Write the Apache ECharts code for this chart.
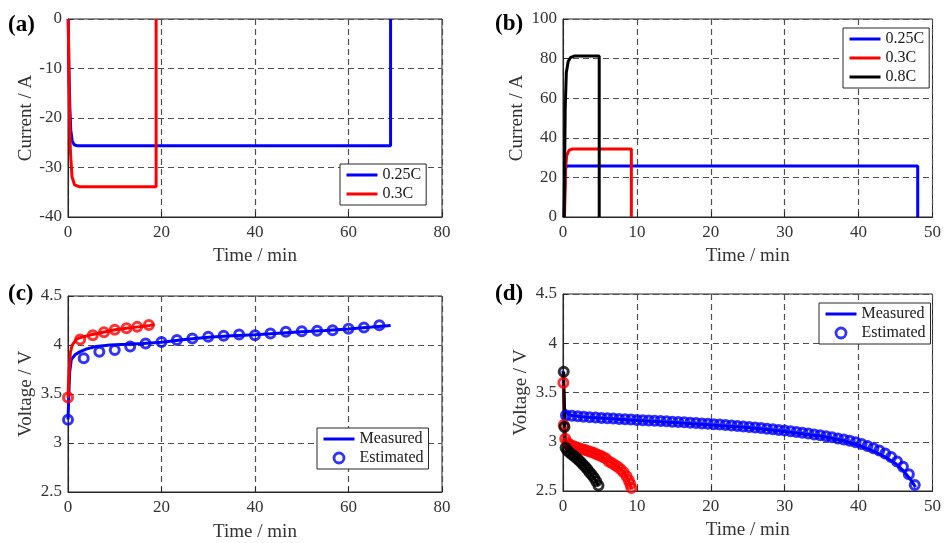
<!DOCTYPE html>
<html>
<head>
<meta charset="utf-8">
<script src="https://cdn.jsdelivr.net/npm/echarts@6/dist/echarts.min.js"></script>
<style>
  html, body { margin: 0; padding: 0; background: #fff; }
  #chart { width: 944px; height: 543px; }
</style>
</head>
<body>
<div id="chart"></div>
<script>
// ---------- (a) charging current ----------
const tA025 = [0.05, 0.2, 0.4, 0.6, 0.9, 1.3, 2.0, 69.0, 69.0];
const iA025 = [0, -10, -18, -22.5, -24.6, -25.4, -25.6, -25.6, 0];
const tA03 = [0.05, 0.2, 0.35, 0.5, 0.86, 1.4, 2.5, 18.85, 18.85];
const iA03 = [0, -12, -20, -26.5, -31.9, -33.5, -33.9, -33.9, 0];

// ---------- (b) discharging current ----------
const tB025 = [0.15, 0.3, 0.5, 48.0, 48.0];
const iB025 = [0, 24, 25.8, 25.8, 0];
const tB03 = [0.2, 0.35, 0.5, 0.8, 1.2, 9.25, 9.25];
const iB03 = [0, 25, 31, 33.6, 34.3, 34.4, 0];
const tB08 = [0.15, 0.3, 0.45, 0.7, 1.0, 1.5, 4.9, 4.9];
const iB08 = [0, 55, 73, 78.5, 80.5, 81.3, 81.3, 0];

// ---------- (c) charging voltage ----------
const tC025 = [0, 0.15, 0.35, 0.7, 1.5, 2.5, 4, 6, 9, 12.5, 16, 20, 25, 30, 35, 40, 45, 50, 55, 60, 65, 69];
const vC025 = [3.24, 3.45, 3.72, 3.85, 3.9, 3.93, 3.96, 3.985, 4.0, 4.007, 4.015, 4.028, 4.055, 4.078, 4.095, 4.105, 4.12, 4.135, 4.148, 4.163, 4.183, 4.2];
const tC025est = [0, 3.36, 6.7, 10.0, 13.3, 16.6, 20.0, 23.3, 26.6, 30.0, 33.3, 36.6, 40.0, 43.3, 46.6, 50.0, 53.3, 56.6, 60.0, 63.3, 66.6];
const vC025est = [3.238, 3.864, 3.93, 3.95, 3.985, 4.015, 4.03, 4.05, 4.067, 4.084, 4.094, 4.107, 4.10, 4.118, 4.135, 4.141, 4.145, 4.151, 4.165, 4.178, 4.202];
const tC03 = [0, 0.2, 0.5, 0.9, 1.8, 3, 5, 7.5, 10, 12.5, 15, 17.5, 18.5];
const vC03 = [3.46, 3.7, 3.92, 4.0, 4.06, 4.08, 4.105, 4.13, 4.155, 4.17, 4.185, 4.2, 4.21];
const tC03est = [0, 2.6, 5.3, 7.7, 10.0, 12.5, 14.8, 17.3];
const vC03est = [3.464, 4.055, 4.1, 4.13, 4.155, 4.17, 4.185, 4.205];

// ---------- (d) discharging voltage ----------
const tD025 = [0, 0.08, 0.2, 0.4, 1, 3, 6, 10, 15, 20, 25, 30, 35, 38, 40, 42, 43.5, 45, 46, 47, 47.7];
const vD025 = [3.72, 3.5, 3.34, 3.3, 3.27, 3.25, 3.235, 3.215, 3.195, 3.17, 3.145, 3.105, 3.055, 3.01, 2.965, 2.905, 2.85, 2.78, 2.71, 2.62, 2.54];
const tD025est = [0.4, 1.2, 2.0, 2.8, 3.6, 4.4, 5.2, 6.0, 6.8, 7.6, 8.4, 9.2, 10.0, 10.8, 11.6, 12.4, 13.2, 14.0, 14.8, 15.6,
  16.4, 17.2, 18.0, 18.8, 19.6, 20.4, 21.2, 22.0, 22.8, 23.6, 24.4, 25.2, 26.0, 26.8, 27.6, 28.4, 29.2, 30.0, 30.8, 31.6,
  32.4, 33.2, 34.0, 34.8, 35.6, 36.4, 37.2, 38.0, 38.8, 39.6, 40.4, 41.2, 42.0, 42.8, 43.6, 44.4, 45.2, 46.0, 46.8, 47.6];
const vD025est = [3.27, 3.265, 3.26, 3.255, 3.25, 3.245, 3.24, 3.238, 3.235, 3.232, 3.228, 3.225, 3.222, 3.219, 3.216, 3.213, 3.21, 3.207, 3.204, 3.2,
  3.197, 3.194, 3.19, 3.186, 3.182, 3.178, 3.174, 3.17, 3.165, 3.16, 3.155, 3.15, 3.145, 3.139, 3.133, 3.127, 3.12, 3.113, 3.106, 3.099,
  3.091, 3.083, 3.074, 3.065, 3.055, 3.045, 3.034, 3.022, 3.009, 2.994, 2.977, 2.958, 2.935, 2.91, 2.88, 2.845, 2.8, 2.745, 2.67, 2.56];
const tD03 = [0.05, 0.15, 0.3, 0.6, 1, 2, 3, 4, 5, 6, 7, 8, 8.6, 9, 9.3];
const vD03 = [3.6, 3.2, 3.03, 2.99, 2.97, 2.935, 2.915, 2.895, 2.86, 2.815, 2.77, 2.71, 2.65, 2.58, 2.52];
const tD03est = [0.05, 0.1, 0.3, 0.6, 1.0, 1.4, 1.8, 2.2, 2.6, 3.0, 3.4, 3.8, 4.2, 4.6, 5.0, 5.4, 5.8, 6.2, 6.6, 7.0, 7.4, 7.8, 8.2, 8.6, 8.9, 9.1, 9.25];
const vD03est = [3.6, 3.17, 3.03, 2.99, 2.97, 2.955, 2.945, 2.935, 2.925, 2.915, 2.905, 2.895, 2.885, 2.87, 2.86, 2.845, 2.83, 2.8, 2.785, 2.765, 2.745, 2.72, 2.69, 2.65, 2.61, 2.57, 2.53];
const tD08 = [0.1, 0.2, 0.3, 0.6, 1, 1.5, 2, 2.5, 3, 3.5, 4, 4.5, 4.8];
const vD08 = [3.71, 3.3, 2.95, 2.91, 2.885, 2.855, 2.825, 2.79, 2.745, 2.7, 2.655, 2.6, 2.555];
const tD08est = [0.1, 0.2, 0.35, 0.6, 0.9, 1.2, 1.5, 1.8, 2.1, 2.4, 2.7, 3.0, 3.3, 3.6, 3.9, 4.2, 4.5, 4.8];
const vD08est = [3.71, 3.15, 2.94, 2.91, 2.89, 2.87, 2.855, 2.835, 2.815, 2.795, 2.77, 2.745, 2.72, 2.69, 2.665, 2.635, 2.6, 2.555];

// ---------- styling ----------
const FONT = "'Liberation Serif', 'Times New Roman', serif";
const BLUE = '#0000ff', RED = '#ff0000', BLACK = '#000000';
const FRAME = '#262626', TXT = '#333333';

const pairs = (xs, ys) => xs.map((x, i) => [x, ys[i]]);

const grids = [
  { left: 68, top: 19, width: 374, height: 198 },
  { left: 563, top: 19, width: 373, height: 198 },
  { left: 68, top: 296, width: 374, height: 197 },
  { left: 563, top: 294, width: 373, height: 197 }
].map(g => Object.assign(g, { show: true, borderColor: FRAME, borderWidth: 1, backgroundColor: '#fff' }));

function xAx(gi, max, interval, gap) {
  return {
    gridIndex: gi, type: 'value', min: 0, max: max, interval: interval,
    name: 'Time / min', nameLocation: 'middle', nameGap: gap,
    nameTextStyle: { fontFamily: FONT, fontSize: 19, color: TXT },
    axisLine: { show: true, onZero: false, lineStyle: { color: FRAME, width: 1 } },
    axisTick: { show: true, inside: true, length: 5, lineStyle: { color: FRAME } },
    axisLabel: { fontFamily: FONT, fontSize: 17, color: TXT, margin: 7 },
    splitLine: { show: true, lineStyle: { color: '#505050', width: 1.2, type: [6, 4] } }
  };
}
function yAx(gi, min, max, interval, name, gap) {
  return {
    gridIndex: gi, type: 'value', min: min, max: max, interval: interval,
    name: name, nameLocation: 'middle', nameGap: gap,
    nameTextStyle: { fontFamily: FONT, fontSize: 19, color: TXT },
    axisLine: { show: true, onZero: false, lineStyle: { color: FRAME, width: 1 } },
    axisTick: { show: true, inside: true, length: 5, lineStyle: { color: FRAME } },
    axisLabel: { fontFamily: FONT, fontSize: 17, color: TXT, margin: 6 },
    splitLine: { show: true, lineStyle: { color: '#505050', width: 1.2, type: [6, 4] } }
  };
}

function line(name, gi, xs, ys, color) {
  return {
    name: name, type: 'line', xAxisIndex: gi, yAxisIndex: gi,
    data: pairs(xs, ys), symbol: 'none', showSymbol: false,
    lineStyle: { color: color, width: 3 }, itemStyle: { color: color },
    z: 2
  };
}
function circles(name, gi, xs, ys, color) {
  return {
    name: name, type: 'scatter', xAxisIndex: gi, yAxisIndex: gi,
    data: pairs(xs, ys), symbol: 'circle', symbolSize: 9,
    itemStyle: { color: 'transparent', borderColor: color, borderWidth: 3 },
    z: 3
  };
}

// line entries show only the stroke in the legend, no marker
const lineEntry = name => ({ name: name, itemStyle: { opacity: 0 } });
const circleEntry = name => ({
  name: name,
  itemStyle: { color: 'transparent', borderColor: BLUE, borderWidth: 2.8 }
});

function legendAt(left, top, entries) {
  return {
    left: left, top: top, orient: 'vertical',
    data: entries, selectedMode: false,
    backgroundColor: '#fff', borderColor: FRAME, borderWidth: 1,
    padding: [3, 5, 3, 5], itemGap: 3, itemWidth: 31, itemHeight: 10,
    lineStyle: { width: 3 },
    textStyle: { fontFamily: FONT, fontSize: 16, color: '#1a1a1a', lineHeight: 16 }
  };
}

function panelLabel(text, x, y) {
  return {
    type: 'text', left: x, top: y,
    style: { text: text, font: 'bold 23px ' + FONT, fill: '#000' }
  };
}

const option = {
  animation: false,
  backgroundColor: '#fff',
  grid: grids,
  xAxis: [xAx(0, 80, 20, 30), xAx(1, 50, 10, 30), xAx(2, 80, 20, 31), xAx(3, 50, 10, 30)],
  yAxis: [
    yAx(0, -40, 0, 10, 'Current / A', 32),
    yAx(1, 0, 100, 20, 'Current / A', 36),
    yAx(2, 2.5, 4.5, 0.5, 'Voltage / V', 32),
    yAx(3, 2.5, 4.5, 0.5, 'Voltage / V', 32)
  ],
  legend: [
    legendAt(340, 164, [lineEntry('0.25C'), lineEntry('0.3C')]),
    legendAt(843, 28, [lineEntry('0.25C'), lineEntry('0.3C'), lineEntry('0.8C')]),
    legendAt(317, 428, [lineEntry('Measured'), circleEntry('Estimated')]),
    legendAt(819, 303, [lineEntry('Measured'), circleEntry('Estimated')])
  ],
  graphic: [
    panelLabel('(a)', 8, 14),
    panelLabel('(b)', 495, 13),
    panelLabel('(c)', 8, 283),
    panelLabel('(d)', 495, 283)
  ],
  series: [
    line('0.25C', 0, tA025, iA025, BLUE),
    line('0.3C', 0, tA03, iA03, RED),

    line('0.25C', 1, tB025, iB025, BLUE),
    line('0.3C', 1, tB03, iB03, RED),
    line('0.8C', 1, tB08, iB08, BLACK),

    line('Measured', 2, tC025, vC025, BLUE),
    circles('Estimated', 2, tC025est, vC025est, BLUE),
    line('Measured 0.3C', 2, tC03, vC03, RED),
    circles('Estimated 0.3C', 2, tC03est, vC03est, RED),

    line('Measured', 3, tD025, vD025, BLUE),
    circles('Estimated', 3, tD025est, vD025est, BLUE),
    line('Measured 0.3C', 3, tD03, vD03, RED),
    circles('Estimated 0.3C', 3, tD03est, vD03est, RED),
    line('Measured 0.8C', 3, tD08, vD08, BLACK),
    circles('Estimated 0.8C', 3, tD08est, vD08est, BLACK)
  ]
};

const chart = echarts.init(document.getElementById('chart'), null, { renderer: 'canvas' });
chart.setOption(option);
</script>
</body>
</html>
